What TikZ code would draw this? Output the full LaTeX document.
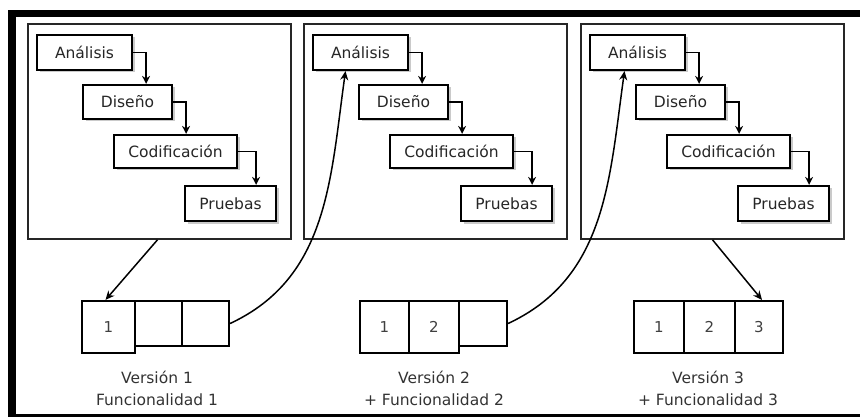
\documentclass[tikz,border=0pt]{standalone}
\usepackage{fontspec}
\setmainfont{DejaVu Sans}
\usetikzlibrary{shadows,arrows.meta}
\begin{document}
\begin{tikzpicture}[x=1pt,y=-1pt,
  panel/.style={draw=black!85,line width=1.6pt,minimum width=263pt,minimum height=215pt,inner sep=0pt},
  stepbox/.style={draw,line width=2.2pt,fill=white,inner sep=0pt,font=\fontsize{15.5}{18}\selectfont,text=black!85,
     drop shadow={shadow xshift=2.5pt,shadow yshift=-2.5pt,opacity=0.35,fill=black!60}},
  verbox/.style={draw,line width=2.2pt,fill=white,inner sep=0pt,font=\fontsize{15}{18}\selectfont,text=black!75},
  lab/.style={font=\fontsize{15.5}{18}\selectfont,text=black!80,inner sep=0pt},
  elbow/.style={line width=1.8pt,-{Stealth[length=8pt,width=8pt]}},
  arr/.style={line width=1.5pt,-{Stealth[length=9pt,width=8pt]}}]
\useasboundingbox (0,0) rectangle (860,417);
% outer frame
\fill[black] (8,10) rectangle (860,17);
\fill[black] (8,10) rectangle (16,417);
\fill[black] (8,414) rectangle (860,417);
% panels
\foreach \i/\o in {1/0,2/276,3/553}{
  \begin{scope}[xshift=\o pt]
    \node[panel] (P\i) at (159.5,131.5) {};
    \node[stepbox,minimum width=95pt,minimum height=35pt] (a\i) at (84.5,52.5) {Análisis};
    \node[stepbox,minimum width=89pt,minimum height=34pt] (d\i) at (127.5,102) {Diseño};
    \node[stepbox,minimum width=123pt,minimum height=33pt] (c\i) at (175.5,151.5) {Codificación};
    \node[stepbox,minimum width=91pt,minimum height=35pt] (p\i) at (230.5,203.5) {Pruebas};
    \draw[elbow] (a\i.east) -- ++(13,0) coordinate (ta\i) -- (ta\i |- d\i.north);
    \draw[elbow] (d\i.east) -- ++(13,0) coordinate (td\i) -- (td\i |- c\i.north);
    \draw[elbow] (c\i.east) -- ++(18,0) coordinate (tc\i) -- (tc\i |- p\i.north);
  \end{scope}
}
% version boxes
\node[verbox,minimum width=53pt,minimum height=52pt] (b11) at (108.5,327) {1};
\node[verbox,minimum width=47pt,minimum height=45pt] (b12) at (158.5,323.5) {};
\node[verbox,minimum width=47pt,minimum height=45pt] (b13) at (205.5,323.5) {};
\node[verbox,minimum width=49pt,minimum height=52pt] (b21) at (384.5,327) {1};
\node[verbox,minimum width=50pt,minimum height=52pt] (b22) at (434,327) {2};
\node[verbox,minimum width=48pt,minimum height=45pt] (b23) at (483,323.5) {};
\node[verbox,minimum width=50pt,minimum height=52pt] (b31) at (659,327) {1};
\node[verbox,minimum width=51pt,minimum height=52pt] (b32) at (709.5,327) {2};
\node[verbox,minimum width=48pt,minimum height=52pt] (b33) at (759,327) {3};
% labels
\node[lab] (v1) at (157,377) {Versión 1};
\node[lab] (f1) at (157,400) {Funcionalidad 1};
\node[lab] (v2) at (434,377) {Versión 2};
\node[lab] (f2) at (434,400) {+ Funcionalidad 2};
\node[lab] (v3) at (708,377) {Versión 3};
\node[lab] (f3) at (708,400) {+ Funcionalidad 3};
% arrows
\draw[arr] ([xshift=-2pt]P1.south) -- ([xshift=-3pt]b11.north);
\draw[arr] (P3.south) -- ([xshift=3pt]b33.north);
\draw[arr] (b13.east) to[out=25,in=-98] ([xshift=-15pt]a2.south);
\draw[arr] (b23.east) to[out=25,in=-98] ([xshift=-13pt]a3.south);
\end{tikzpicture}
\end{document}
